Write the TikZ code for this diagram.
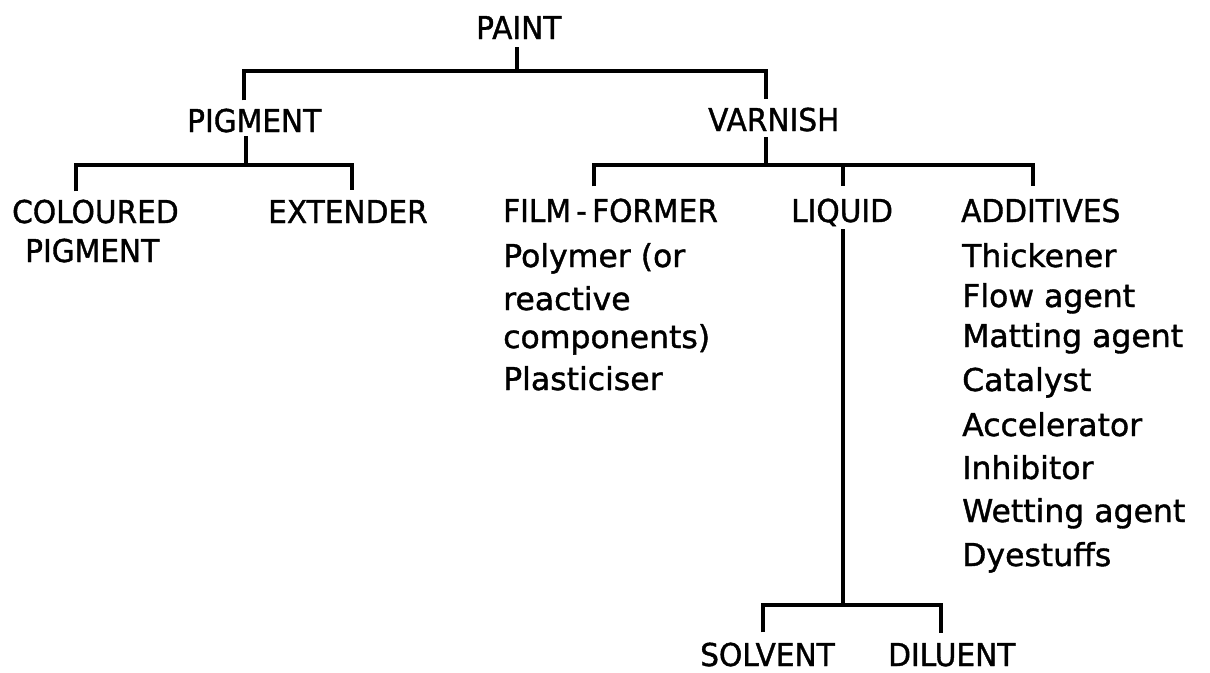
\documentclass[tikz,border=0pt]{standalone}
\usepackage{fontspec}
\newfontfamily\lowfont[FakeBold=1.2]{DejaVu Sans}
\newfontfamily\capfont[FakeStretch=0.94,FakeBold=1.2]{DejaVu Sans}
\begin{document}
\begin{tikzpicture}[x=1pt,y=-1pt,
  lbl/.style={anchor=base west, inner sep=0pt, font=\fontsize{31.5}{38}\selectfont\capfont},
  txt/.style={anchor=base west, inner sep=0pt, font=\fontsize{31.5}{38}\selectfont\lowfont},
  conn/.style={line width=3.4pt, line cap=butt, line join=miter}]
\useasboundingbox (0,0) rectangle (1210,672);
% labels
\node[lbl] (paint) at (476,39) {PAINT};
\node[lbl] (pigment) at (187,132) {PIGMENT};
\node[lbl] (varnish) at (708,131) {VARNISH};
\node[lbl] (coloured) at (12,223) {COLOURED};
\node[lbl] (coloured2) at (25,262) {PIGMENT};
\node[lbl] (extender) at (268,223) {EXTENDER};
\node[lbl] (film) at (503,222) {FILM\,-\,FORMER};
\node[lbl] (liquid) at (791,222) {LIQUID};
\node[lbl] (additives) at (961,222) {ADDITIVES};
\node[lbl] (solvent) at (700,666) {SOLVENT};
\node[lbl] (diluent) at (888,666) {DILUENT};
% film-former list
\node[txt] (f1) at (503,267) {Polymer (or};
\node[txt] (f2) at (503,310) {reactive};
\node[txt] (f3) at (503,348) {components)};
\node[txt] (f4) at (503,390) {Plasticiser};
% additives list
\node[txt] (a1) at (962,267) {Thickener};
\node[txt] (a2) at (962,307) {Flow agent};
\node[txt] (a3) at (962,347) {Matting agent};
\node[txt] (a4) at (962,391) {Catalyst};
\node[txt] (a5) at (962,436) {Accelerator};
\node[txt] (a6) at (962,479) {Inhibitor};
\node[txt] (a7) at (962,522) {Wetting agent};
\node[txt] (a8) at (962,566) {Dyestuffs};
% junction coordinates
\coordinate (jp) at (517,71);
\coordinate (jpl) at (244,71);
\coordinate (jpr) at (766,71);
\coordinate (jg) at (246,165);
\coordinate (jgl) at (76,165);
\coordinate (jgr) at (352,165);
\coordinate (jv) at (766,165);
\coordinate (jvl) at (594,165);
\coordinate (jvm) at (843,165);
\coordinate (jvr) at (1033,165);
\coordinate (jl) at (843,605);
\coordinate (jll) at (763,605);
\coordinate (jlr) at (941,605);
% PAINT
\draw[conn] ([yshift=-8pt]jp |- paint.base) -- (jp);
\draw[conn] ([yshift=8pt]jpl |- pigment.north) -- (jpl) -- (jpr) -- ([yshift=8pt]jpr |- varnish.north);
% PIGMENT
\draw[conn] ([yshift=-4pt]jg |- pigment.base) -- (jg);
\draw[conn] ([yshift=8pt]jgl |- coloured.north) -- (jgl) -- (jgr) -- ([yshift=10pt]jgr |- extender.north);
% VARNISH
\draw[conn] ([yshift=-6pt]jv |- varnish.base) -- (jv);
\draw[conn] ([yshift=12pt]jvl |- film.north) -- (jvl) -- (jvr) -- ([yshift=12pt]jvr |- additives.north);
\draw[conn] (jvm) -- ([yshift=12pt]jvm |- liquid.north);
% LIQUID
\draw[conn] ([yshift=-7pt]jl |- liquid.base) -- (jl);
\draw[conn] ([yshift=10pt]jll |- solvent.north) -- (jll) -- (jlr) -- ([yshift=10pt]jlr |- diluent.north);
\end{tikzpicture}
\end{document}
